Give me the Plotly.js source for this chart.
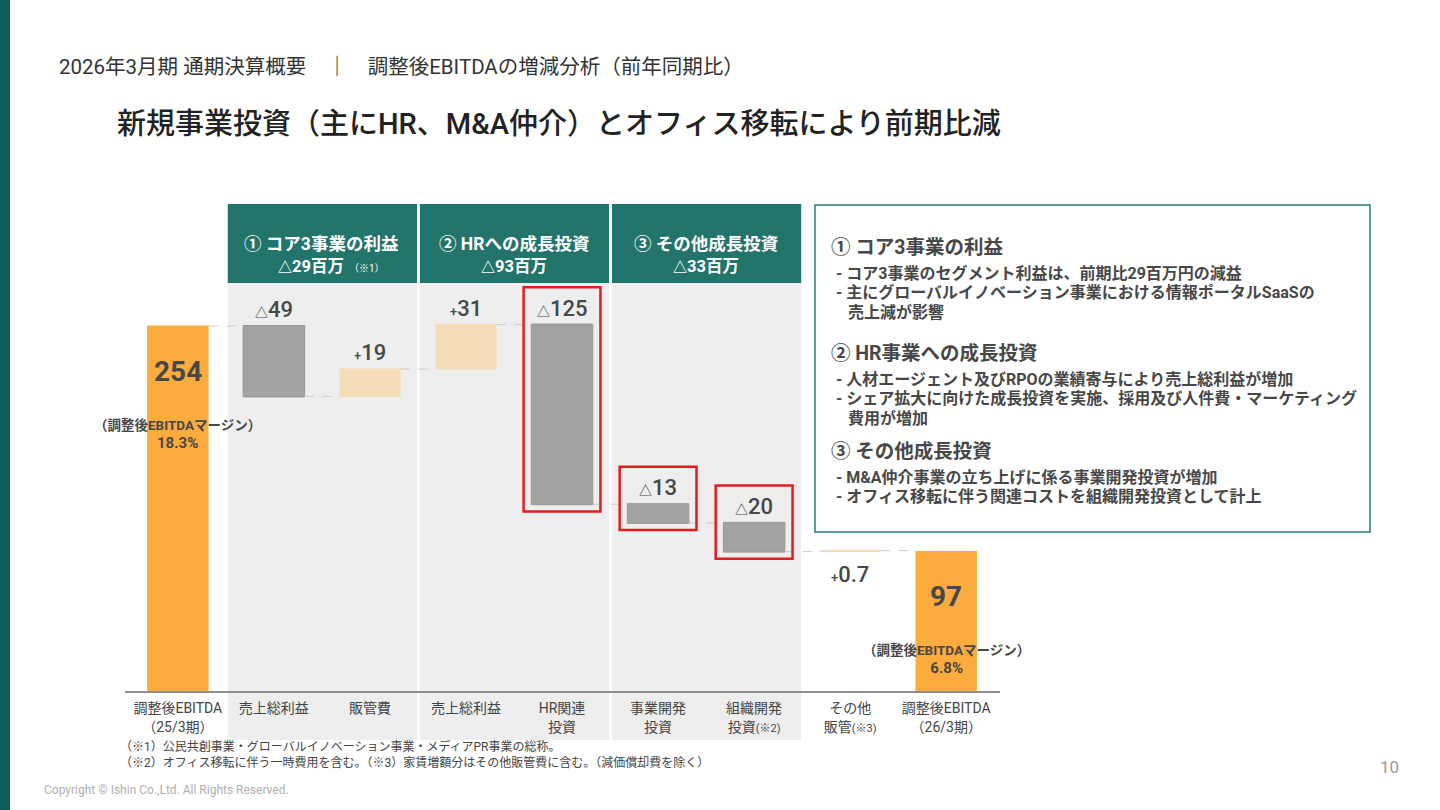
<!DOCTYPE html>
<html>
<head>
<meta charset="utf-8">
<script src="https://cdn.plot.ly/plotly-3.0.1.min.js"></script>
<style>
html, body { margin: 0; padding: 0; background: #fff; }
#chart { width: 1440px; height: 810px; }
</style>
</head>
<body>
<div id="chart"></div>
<script>
// waterfall values (百万円)
const categories = [
    "調整後EBITDA<br>（25/3期）", "売上総利益", "販管費", "売上総利益", "HR関連<br>投資",
    "事業開発<br>投資", "組織開発<br>投資<span style='font-size:11px'>(※2)</span>",
    "その他<br>販管<span style='font-size:11px'>(※3)</span>", "調整後EBITDA<br>（26/3期）"
];
const values = [254, -49, 19, 31, -125, -13, -20, 0.7, 97];
const measures = ["absolute", "relative", "relative", "relative", "relative", "relative", "relative", "relative", "absolute"];
const ebitdaMargins = ["18.3%", null, null, null, null, null, null, null, "6.8%"];

// the three groups of the analysis
const groupTitles = ["① コア3事業の利益", "② HRへの成長投資", "③ その他成長投資"];
const groupTotals = ["△29百万", "△93百万", "△33百万"];
const groupNotes = ["（※1）", "", ""];
const groupFirst = [1, 3, 5];
const groupLast = [2, 4, 6];
const highlighted = [4, 5, 6];

// comment box on the right
const boxHeads = ["① コア3事業の利益", "② HR事業への成長投資", "③ その他成長投資"];
const boxItems = [
    ["- コア3事業のセグメント利益は、前期比29百万円の減益",
     "- 主にグローバルイノベーション事業における情報ポータルSaaSの",
     "   売上減が影響"],
    ["- 人材エージェント及びRPOの業績寄与により売上総利益が増加",
     "- シェア拡大に向けた成長投資を実施、採用及び人件費・マーケティング",
     "   費用が増加"],
    ["- M&A仲介事業の立ち上げに係る事業開発投資が増加",
     "- オフィス移転に伴う関連コストを組織開発投資として計上"]
];

const FONT = 'Roboto, "Noto Sans CJK JP", sans-serif';
const TEAL = "#23746b";
const TEXT = "#474747";

// plot area in page pixels, used to place paper-referenced decorations
const PLOT = {l: 125, r: 1000, t: 180, b: 691};
const PX_PER_UNIT = 1.437;
function paperX(px) { return (px - PLOT.l) / (PLOT.r - PLOT.l); }
function paperY(py) { return (PLOT.b - py) / (PLOT.b - PLOT.t); }

function pageText(px, py, text, size, color, extra) {
    return Object.assign({
        xref: "paper", yref: "paper", x: paperX(px), y: paperY(py),
        xanchor: "left", yanchor: "middle", showarrow: false, align: "left",
        text: text, font: {family: FONT, size: size, color: color || TEXT}
    }, extra || {});
}

// bar extents from the running total
var running = 0, barTop = [], barBottom = [];
values.forEach((v, i) => {
    var start = measures[i] === "absolute" ? 0 : running;
    var end = measures[i] === "absolute" ? v : running + v;
    running = end;
    barTop.push(Math.max(start, end));
    barBottom.push(Math.min(start, end));
});

var xs = categories.map((c, i) => i);

var data = [{
    type: "waterfall",
    x: xs,
    y: values,
    measure: measures,
    width: 0.64,
    increasing: {marker: {color: "#f6dcb8"}},
    decreasing: {marker: {color: "#a2a2a2", line: {color: "#979797", width: 1}}},
    totals: {marker: {color: "#fcab3f"}},
    connector: {mode: "between", line: {color: "#cccccc", width: 1, dash: "dash"}},
    textinfo: "none",
    hoverinfo: "skip"
}];

var shapes = [];
var annotations = [];

// dark green strip on the left edge
shapes.push({type: "rect", xref: "paper", yref: "paper", x0: paperX(0), x1: paperX(10), y0: paperY(810), y1: paperY(0),
    fillcolor: "#0d5f55", line: {width: 0}});

// group panels and headers
groupTitles.forEach((title, g) => {
    var x0 = groupFirst[g] - 0.48, x1 = groupLast[g] + 0.49;
    shapes.push({type: "rect", layer: "below", xref: "x", yref: "paper", x0: x0, x1: x1,
        y0: paperY(740), y1: paperY(283), fillcolor: "#edeeed", line: {width: 0}});
    shapes.push({type: "rect", xref: "x", yref: "paper", x0: x0, x1: x1,
        y0: paperY(283), y1: paperY(204), fillcolor: TEAL, line: {width: 0}});
    var mid = (groupFirst[g] + groupLast[g]) / 2;
    annotations.push({xref: "x", yref: "paper", x: mid, y: paperY(232), showarrow: false,
        text: "<b>" + title + "</b>", font: {family: FONT, size: 17.5, color: "#ffffff"}});
    var sub = "<b>" + groupTotals[g].replace("△", "<span style='font-size:14px'>△</span>") + "</b>";
    if (groupNotes[g]) sub += "<span style='font-size:10px'>  " + groupNotes[g] + "</span>";
    annotations.push({xref: "x", yref: "paper", x: mid + (groupNotes[g] ? 0.1 : 0), y: paperY(255), showarrow: false,
        text: sub, font: {family: FONT, size: 16.5, color: "#ffffff"}});
});

// red highlight boxes round the investment bars
highlighted.forEach(i => {
    shapes.push({type: "rect", xref: "x", yref: "y", x0: i - 0.4, x1: i + 0.4,
        y0: barBottom[i] - 5, y1: barTop[i] + 26, line: {color: "#e81a1d", width: 2.5}});
});

// value labels
values.forEach((v, i) => {
    if (measures[i] === "absolute") {
        annotations.push({x: i, y: barTop[i], yshift: -45, showarrow: false,
            text: "<b>" + v + "</b>", font: {family: FONT, size: 28, color: TEXT}});
        if (ebitdaMargins[i]) {
            annotations.push({x: i, y: barTop[i], yshift: -108, showarrow: false,
                text: "<b>（調整後EBITDAマージン）<br><span style='font-size:15px'>" + ebitdaMargins[i] + "</span></b>",
                font: {family: FONT, size: 13.5, color: TEXT}});
        }
        return;
    }
    var sign = v < 0 ? "△" : "+";
    var label = "<span style='font-size:13px'>" + sign + "</span>" + Math.abs(v);
    if (Math.abs(v) < 5) {
        // bar too thin: label goes under it
        annotations.push({x: i, y: barBottom[i], yanchor: "top", yshift: -8, showarrow: false,
            text: label, font: {family: FONT, size: 22, color: TEXT, weight: 500}});
    } else {
        annotations.push({x: i, y: barTop[i], yanchor: "bottom", yshift: 2, showarrow: false,
            text: label, font: {family: FONT, size: 22, color: TEXT, weight: 500}});
    }
});

// page titles
annotations.push(pageText(57, 67, "2026年3月期 通期決算概要　｜　調整後EBITDAの増減分析（前年同期比）", 20.5, "#333333"));
annotations.push(pageText(115, 124, "新規事業投資（主にHR、M&A仲介）とオフィス移転により前期比減", 29, "#222222", {font: {family: FONT, size: 29, color: "#222222", weight: 500}}));

// comment box
shapes.push({type: "rect", xref: "paper", yref: "paper", x0: paperX(815), x1: paperX(1370),
    y0: paperY(532), y1: paperY(205), line: {color: "#2f7b70", width: 1.5}, fillcolor: "rgba(0,0,0,0)"});
var headY = [247, 353, 451];
boxHeads.forEach((h, k) => {
    annotations.push(pageText(829, headY[k], "<b>" + h + "</b>", 19.5));
    boxItems[k].forEach((line, j) => {
        annotations.push(pageText(834, headY[k] + 26 + j * 19.5, "<b>" + line + "</b>", 16));
    });
});

// footnotes and footer
annotations.push(pageText(118, 746, "（※1）公民共創事業・グローバルイノベーション事業・メディアPR事業の総称。", 12, "#444444"));
annotations.push(pageText(118, 762, "（※2）オフィス移転に伴う一時費用を含む。（※3）家賃増額分はその他販管費に含む。（減価償却費を除く）", 12, "#444444"));
annotations.push(pageText(42, 790, "Copyright © Ishin Co.,Ltd. All Rights Reserved.", 12, "#b0b0b0"));
annotations.push(pageText(1378, 767, "10", 17, "#9a9a9a"));

const layout = {
    width: 1440,
    height: 810,
    margin: {l: PLOT.l, r: 1440 - PLOT.r, t: PLOT.t, b: 810 - PLOT.b, pad: 0},
    paper_bgcolor: "#ffffff",
    plot_bgcolor: "rgba(0,0,0,0)",
    showlegend: false,
    font: {family: FONT, color: TEXT},
    xaxis: {
        range: [-0.55, 8.56],
        tickvals: xs,
        ticktext: categories,
        tickangle: 0,
        ticks: "",
        ticklabelstandoff: 4,
        showgrid: false,
        zeroline: false,
        showline: true,
        linecolor: "#8f8f8f",
        linewidth: 1.5,
        tickfont: {family: FONT, size: 14, color: "#444444"},
        fixedrange: true
    },
    yaxis: {
        range: [0, (PLOT.b - PLOT.t) / PX_PER_UNIT],
        visible: false,
        fixedrange: true
    },
    shapes: shapes,
    annotations: annotations
};

Plotly.newPlot("chart", data, layout, {displayModeBar: false, staticPlot: true});
</script>
</body>
</html>
